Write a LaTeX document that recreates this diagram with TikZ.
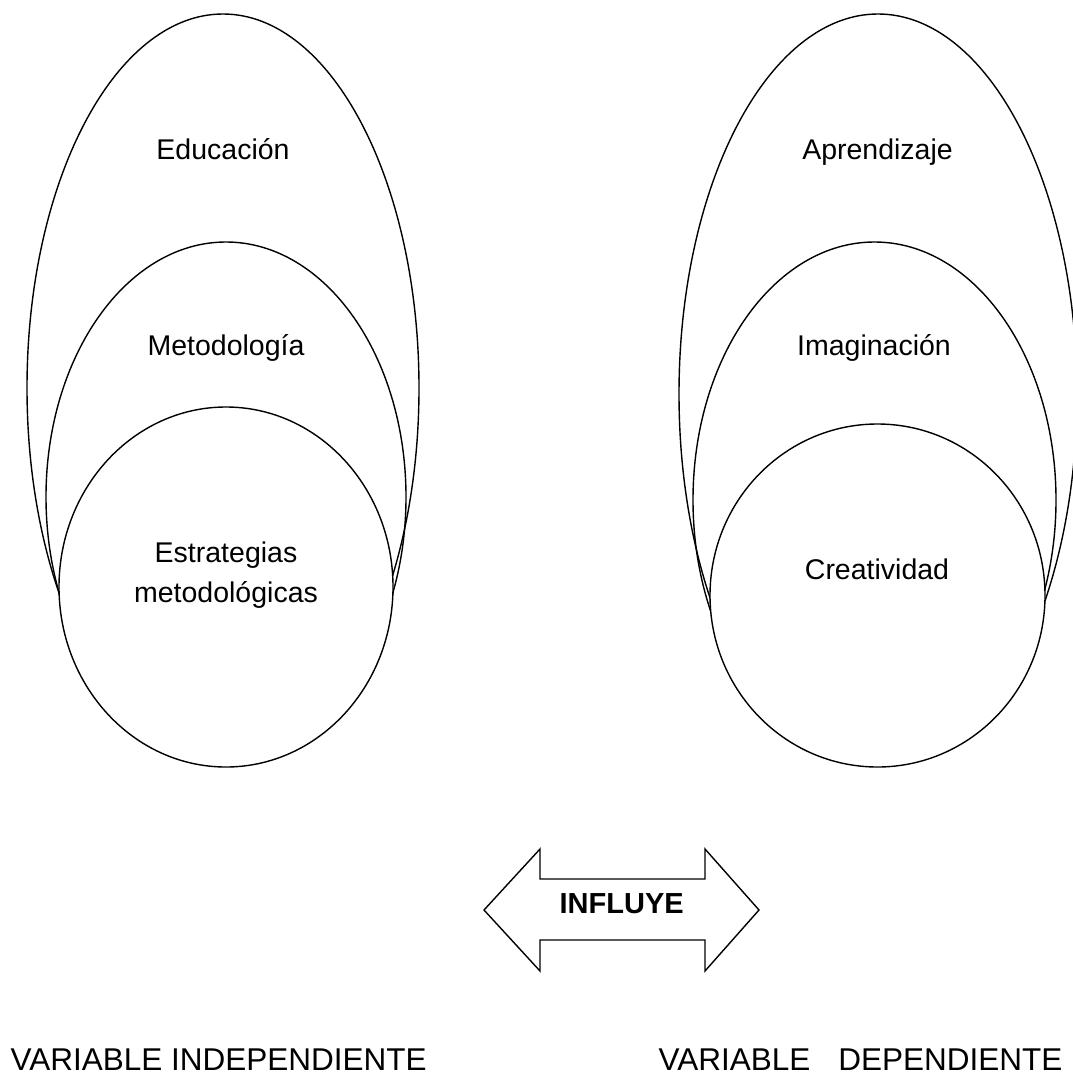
\documentclass[tikz,border=0pt]{standalone}
\usepackage{fontspec}
\setmainfont{Liberation Sans}
\begin{document}
\begin{tikzpicture}[x=1pt,y=-1pt, line width=1.4pt,
  lbl/.style={font=\fontsize{28.5}{34}\selectfont, inner sep=0pt, anchor=base},
  boldlbl/.style={font=\fontsize{29}{34}\selectfont\bfseries, inner sep=0pt, anchor=base},
  varlbl/.style={font=\fontsize{31.5}{36}\selectfont, inner sep=0pt, anchor=base west},
  ring/.style={draw=black},
  disc/.style={draw=black, fill=white},
  bigarrow/.style={draw=black, line join=miter}]
\useasboundingbox (0,0) rectangle (1073,1076);
% left group
\begin{scope}
  \clip (0,0) rectangle (1073,600);
  \draw[ring] (223,388) ellipse [x radius=196, y radius=374];
  \draw[ring] (878,394) ellipse [x radius=199, y radius=380];
\end{scope}
\draw[ring] (226,497) ellipse [x radius=180, y radius=255];
\draw[disc] (226,587) ellipse [x radius=167, y radius=180];
% right group
\draw[ring] (874.5,500) ellipse [x radius=181.5, y radius=258];
\draw[disc] (877.5,595.5) ellipse [x radius=167.5, y radius=171.5];
% labels
\node[lbl] (edu) at (223,159) {Educación};
\node[lbl] (met) at (226,355) {Metodología};
\node[lbl] (est1) at (226,562) {Estrategias};
\node[lbl] (est2) at (226,602) {metodológicas};
\node[lbl] (apr) at (877.5,159) {Aprendizaje};
\node[lbl] (ima) at (874,355) {Imaginación};
\node[lbl] (cre) at (877,579) {Creatividad};
% arrow
\draw[bigarrow] (484,910) -- (540,849) -- (540,879) -- (705,879) -- (705,849)
  -- (759,910) -- (705,971) -- (705,940) -- (540,940) -- (540,971) -- cycle;
\node[boldlbl] (inf) at (621.7,913) {INFLUYE};
% bottom
\node[varlbl] (vi) at (10,1070) {VARIABLE INDEPENDIENTE};
\node[varlbl] (vd) at (658,1070) {VARIABLE\hspace{28pt}DEPENDIENTE};
\end{tikzpicture}
\end{document}
